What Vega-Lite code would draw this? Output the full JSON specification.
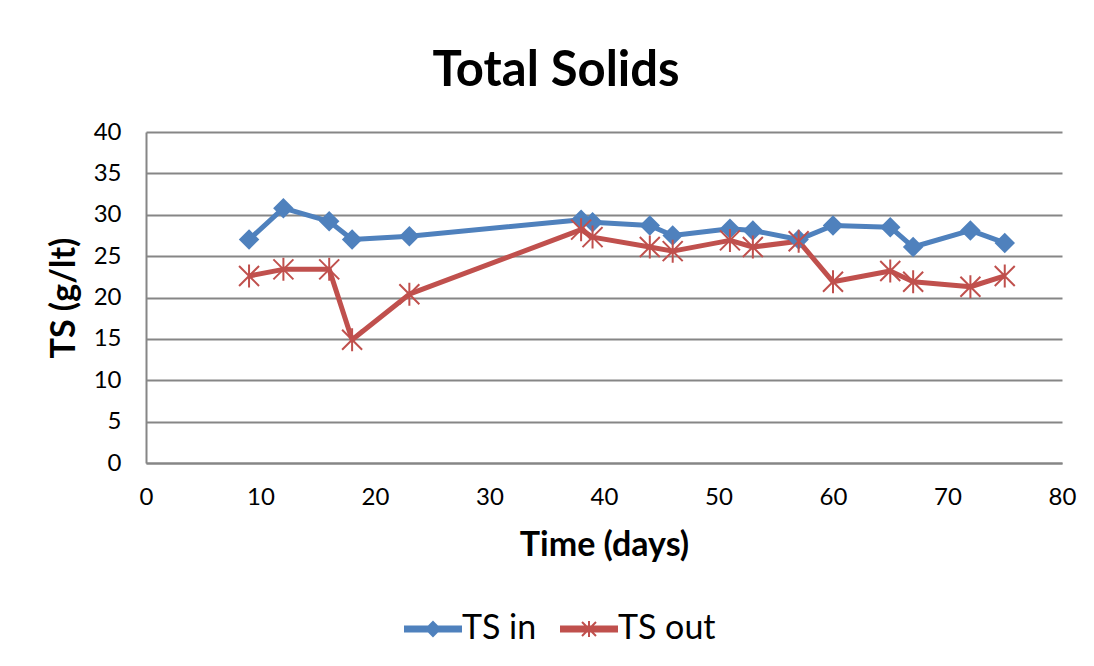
{
  "$schema": "https://vega.github.io/schema/vega-lite/v6.json",
  "width": 916,
  "height": 331,
  "autosize": {"type": "none"},
  "padding": {"left": 146, "top": 132, "right": 32, "bottom": 203},
  "background": "white",
  "title": {
    "text": "Total Solids",
    "font": "Lato",
    "fontSize": 49,
    "fontWeight": "bold",
    "color": "black",
    "anchor": "middle",
    "dx": -48,
    "offset": 24
  },
  "config": {
    "view": {"stroke": null},
    "axis": {
      "labelFont": "Lato",
      "titleFont": "Lato",
      "labelColor": "black",
      "titleColor": "black",
      "labelFontSize": 24,
      "titleFontSize": 34,
      "titleFontWeight": "bold",
      "labelFlush": false,
      "labelOverlap": false,
      "ticks": false,
      "domainColor": "#868686",
      "domainWidth": 2,
      "gridColor": "#868686",
      "gridWidth": 2
    },
    "legend": {
      "labelFont": "Lato",
      "labelFontSize": 34,
      "labelColor": "black"
    }
  },
  "data": {
    "values": [
      {"day": 9, "series": "TS in", "value": 27.0},
      {"day": 12, "series": "TS in", "value": 30.8},
      {"day": 16, "series": "TS in", "value": 29.2},
      {"day": 18, "series": "TS in", "value": 27.0},
      {"day": 23, "series": "TS in", "value": 27.4},
      {"day": 38, "series": "TS in", "value": 29.4},
      {"day": 39, "series": "TS in", "value": 29.1},
      {"day": 44, "series": "TS in", "value": 28.7},
      {"day": 46, "series": "TS in", "value": 27.5},
      {"day": 51, "series": "TS in", "value": 28.3},
      {"day": 53, "series": "TS in", "value": 28.1},
      {"day": 57, "series": "TS in", "value": 27.0},
      {"day": 60, "series": "TS in", "value": 28.7},
      {"day": 65, "series": "TS in", "value": 28.5},
      {"day": 67, "series": "TS in", "value": 26.1},
      {"day": 72, "series": "TS in", "value": 28.1},
      {"day": 75, "series": "TS in", "value": 26.6},
      {"day": 9, "series": "TS out", "value": 22.6},
      {"day": 12, "series": "TS out", "value": 23.4},
      {"day": 16, "series": "TS out", "value": 23.4},
      {"day": 18, "series": "TS out", "value": 14.9},
      {"day": 23, "series": "TS out", "value": 20.4},
      {"day": 38, "series": "TS out", "value": 28.2},
      {"day": 39, "series": "TS out", "value": 27.3},
      {"day": 44, "series": "TS out", "value": 26.1},
      {"day": 46, "series": "TS out", "value": 25.6},
      {"day": 51, "series": "TS out", "value": 26.9},
      {"day": 53, "series": "TS out", "value": 26.1},
      {"day": 57, "series": "TS out", "value": 26.8},
      {"day": 60, "series": "TS out", "value": 21.9},
      {"day": 65, "series": "TS out", "value": 23.2},
      {"day": 67, "series": "TS out", "value": 21.9},
      {"day": 72, "series": "TS out", "value": 21.3},
      {"day": 75, "series": "TS out", "value": 22.6}
    ]
  },
  "encoding": {
    "x": {
      "field": "day",
      "type": "quantitative",
      "scale": {"domain": [0, 80], "nice": false},
      "axis": {"values": [0, 10, 20, 30, 40, 50, 60, 70, 80], "grid": false, "title": "Time (days)", "labelPadding": 22, "titlePadding": 19}
    },
    "y": {
      "field": "value",
      "type": "quantitative",
      "scale": {"domain": [0, 40], "nice": false},
      "axis": {"values": [0, 5, 10, 15, 20, 25, 30, 35, 40], "title": "TS (g/lt)", "labelPadding": 25, "titlePadding": 12}
    },
    "color": {
      "field": "series",
      "type": "nominal",
      "scale": {"domain": ["TS in", "TS out"], "range": ["#4F81BD", "#C0504D"]},
      "legend": {
        "title": null,
        "orient": "none",
        "direction": "horizontal",
        "legendX": 249,
        "legendY": 480,
        "columnPadding": 14,
        "labelOffset": 33,
        "symbolSize": 196,
        "encode": {
          "symbols": {
            "update": {
              "shape": {"signal": "datum.value === 'TS in' ? 'M-1,-0.35H7V0.35H-1Z M3,-1L4,0L3,1L2,0Z' : 'M-1,-0.35H7V0.35H-1Z M2,-1L4,1M2,1L4,-1M3,-1.15L3,1.15'"},
              "strokeWidth": {"value": 2},
              "opacity": {"value": 1},
              "size": {"value": 196}
            }
          }
        }
      }
    }
  },
  "layer": [
    {
      "mark": {"type": "line", "strokeWidth": 5, "strokeJoin": "round"}
    },
    {
      "transform": [{"filter": "datum.series === 'TS in'"}],
      "mark": {"type": "point", "shape": "diamond", "filled": true, "size": 420, "opacity": 1}
    },
    {
      "transform": [{"filter": "datum.series === 'TS out'"}],
      "mark": {"type": "point", "shape": "M-1,-1L1,1M-1,1L1,-1M0,-1.15L0,1.15", "filled": false, "size": 400, "strokeWidth": 2, "opacity": 1}
    }
  ]
}
